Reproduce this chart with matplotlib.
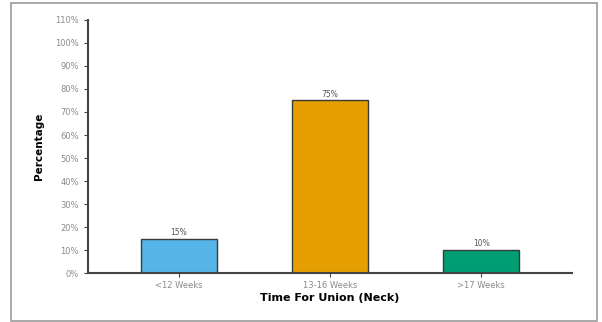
import matplotlib.pyplot as plt
from matplotlib.patches import Rectangle

categories = ['<12 Weeks', '13-16 Weeks', '>17 Weeks']
percentages = [15, 75, 10]
bar_colors = ['#56B4E9', '#E69F00', '#009E73']
y_ticks = list(range(0, 111, 10))

fig = plt.figure(figsize=(6.02, 3.22), dpi=100)
ax = fig.add_axes([0.1462, 0.152, 0.804, 0.786])

# outer frame around the whole figure
fig.patches.append(Rectangle((11 / 602, 1 / 322), 586 / 602, 318 / 322,
                             transform=fig.transFigure, fill=False,
                             edgecolor='#9a9a9a', linewidth=1.2))

x = range(len(categories))
bars = ax.bar(x, percentages, width=0.5, color=bar_colors,
              edgecolor='#3a3a3a', linewidth=1.0)
for rect, val in zip(bars, percentages):
    ax.text(rect.get_x() + rect.get_width() / 2, val + 0.8, f'{val}%',
            ha='center', va='bottom', fontsize=5.5, color='#555555')

ax.set_xlim(-0.6, 2.6)
ax.set_ylim(0, 110)
ax.set_yticks(y_ticks)
ax.set_yticklabels([f'{t}%' for t in y_ticks])
ax.set_xticks(list(x))
ax.set_xticklabels(categories)

ax.tick_params(axis='both', labelsize=6, labelcolor='#8a8a8a', color='#444444',
               length=3, width=0.8, direction='out')
ax.tick_params(axis='x', pad=3)

for side in ['top', 'right']:
    ax.spines[side].set_visible(False)
for side in ['left', 'bottom']:
    ax.spines[side].set_color('#444444')
    ax.spines[side].set_linewidth(1.5)

ax.set_ylabel('Percentage', fontsize=7.5, fontweight='bold', labelpad=8)
ax.set_xlabel('Time For Union (Neck)', fontsize=8, fontweight='bold', labelpad=2)

fig.savefig('out.png', dpi=100)
